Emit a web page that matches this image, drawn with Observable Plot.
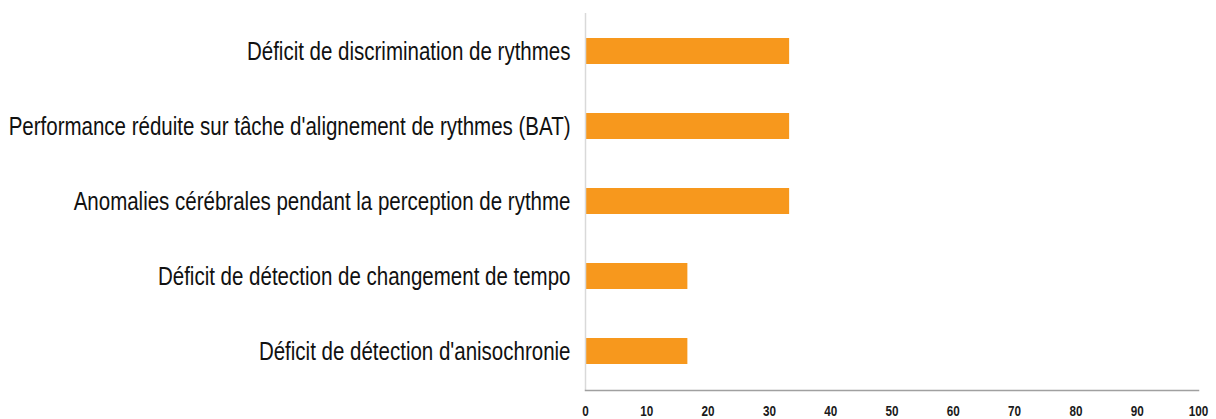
<!DOCTYPE html>
<html>
<head>
<meta charset="utf-8">
<script src="https://cdn.jsdelivr.net/npm/d3@7"></script>
<script src="https://cdn.jsdelivr.net/npm/@observablehq/plot@0.6"></script>
<style>
  html, body { margin: 0; padding: 0; background: #fff; }
  #chart svg { display: block; }
</style>
</head>
<body>
<div id="chart"></div>
<script>
const categories = [
  "Déficit de discrimination de rythmes",
  "Performance réduite sur tâche d'alignement de rythmes (BAT)",
  "Anomalies cérébrales pendant la perception de rythme",
  "Déficit de détection de changement de tempo",
  "Déficit de détection d'anisochronie"
];
const values = [33.3, 33.3, 33.3, 16.7, 16.7];
const xTicks = [0, 10, 20, 30, 40, 50, 60, 70, 80, 90, 100];

const data = categories.map((c, i) => ({category: c, value: values[i]}));

const plot = Plot.plot({
  width: 1216,
  height: 419,
  marginTop: 13,
  marginBottom: 29,
  marginLeft: 585,
  marginRight: 18,
  style: {fontFamily: "'Liberation Sans', Arial, sans-serif", background: "#fff"},
  x: {domain: [0, 100], ticks: xTicks},
  y: {domain: categories, paddingInner: 0.65, paddingOuter: 0.325, align: 0.5},
  marks: [
    Plot.barX(data, {x: "value", y: "category", fill: "#F7981D"}),
    Plot.ruleX([0], {stroke: "#d9d9d9", strokeWidth: 1.5}),
    Plot.frame({anchor: "bottom", stroke: "#a0a0a0", strokeWidth: 1.5}),
    Plot.axisX({ticks: xTicks, tickSize: 0, tickPadding: 15, fontSize: 15, fontWeight: "bold", fill: "#1a1a1a", label: null}),
    Plot.axisY({tickSize: 0, tickPadding: 15, fontSize: 25, fill: "#111", stroke: "#111", strokeWidth: 0.35, label: null})
  ]
});
document.getElementById("chart").appendChild(plot);

// Condense the y tick labels to mimic a narrow typeface
d3.select(plot).selectAll("g[aria-label='y-axis tick label'] text").each(function() {
  const len = this.getComputedTextLength();
  this.setAttribute("textLength", len * 0.82);
  this.setAttribute("lengthAdjust", "spacingAndGlyphs");
});
// Condense the x tick labels too
d3.select(plot).selectAll("g[aria-label='x-axis tick label'] text").each(function() {
  const len = this.getComputedTextLength();
  this.setAttribute("textLength", len * 0.78);
  this.setAttribute("lengthAdjust", "spacingAndGlyphs");
});
</script>
</body>
</html>
